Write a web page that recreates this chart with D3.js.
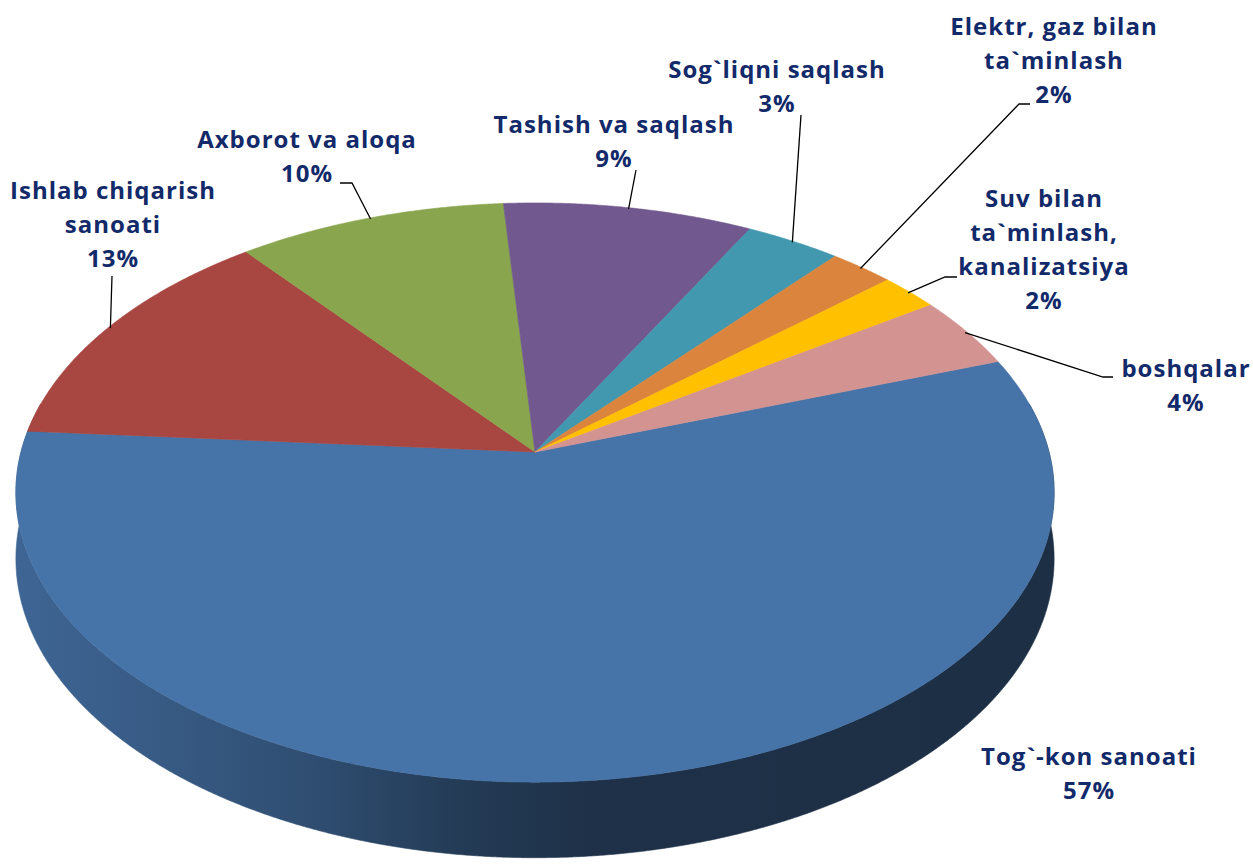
<!DOCTYPE html>
<html>
<head>
<meta charset="utf-8">
<script src="https://cdn.jsdelivr.net/npm/d3@7"></script>
<style>
  body { margin: 0; background: #fff; }
  .pieLabel { font-family: "Open Sans", Lato, sans-serif; font-weight: bold; fill: #12296a; letter-spacing: 1px; }
</style>
</head>
<body>
<div class="chart"></div>
<script>
// data
const categories = ["Tog`-kon sanoati", "Ishlab chiqarish sanoati", "Axborot va aloqa", "Tashish va saqlash",
    "Sog`liqni saqlash", "Elektr, gaz bilan ta`minlash", "Suv bilan ta`minlash, kanalizatsiya", "boshqalar"];
const shares = [56.6, 13.1, 9.6, 8.9, 3.4, 2.3, 2.1, 4.0];
const labelLines = [["Tog`-kon sanoati"], ["Ishlab chiqarish", "sanoati"], ["Axborot va aloqa"], ["Tashish va saqlash"],
    ["Sog`liqni saqlash"], ["Elektr, gaz bilan", "ta`minlash"], ["Suv bilan", "ta`minlash,", "kanalizatsiya"], ["boshqalar"]];
const sliceColors = ["#4673a8", "#a84642", "#89a54e", "#71588f", "#4198af", "#db843d", "#ffc000", "#d39391"];

// layout of the labels (first baseline, centre x) and the elbow of each leader line
const labelLayout = [
    { x: 1089, y: 765, leader: null },
    { x: 113, y: 199, leader: [[112, 276]] },
    { x: 307, y: 148, leader: [[340, 183], [352, 183]] },
    { x: 614, y: 133, leader: [[636, 170]] },
    { x: 777, y: 78, leader: [[801, 115]] },
    { x: 1054, y: 35, leader: [[1030, 104], [1019, 104]] },
    { x: 1044, y: 207, leader: [[957, 277], [945, 277]] },
    { x: 1186, y: 377, leader: [[1113, 377], [1103, 377]] }
];

const width = 1253, height = 864;
const lineGap = 34;

// #region perspective of the pie
const cx = 535;            // centre x on screen
const apexY = 452;         // projected centre of the pie
const k = 0.14;            // perspective strength
const E = 2028;            // distance horizon -> centre
const horizon = apexY - E;
const A = 514;             // horizontal radius
const T = 65;              // thickness
const rad = Math.PI / 180;

function proj(a, r, z) {
    const u = r * Math.sin(a), v = r * Math.cos(a);
    const s = 1 / (1 + k * v);
    return [cx + A * u * s, horizon + E * s + z * T * s];
}
function rimPts(a0, a1, z) {
    const n = Math.max(2, Math.ceil((a1 - a0) / 0.004));
    return d3.range(n + 1).map(i => proj(a0 + (a1 - a0) * i / n, 1, z));
}
// #endregion

const svg = d3.select(".chart").append("svg")
    .attr("width", width).attr("height", height);

const pie = d3.pie().sort(null).value(d => d)
    .startAngle(70.5 * rad).endAngle(70.5 * rad + 2 * Math.PI);
const arcs = pie(shares);
const total = d3.sum(shares);

// gradients for the side wall
const defs = svg.append("defs");
const shadeStops = [[0, 0.88], [0.15, 0.78], [0.3, 0.66], [0.42, 0.52], [0.55, 0.43], [1, 0.41]];
sliceColors.forEach((c, i) => {
    const g = defs.append("linearGradient").attr("id", "wall" + i)
        .attr("gradientUnits", "userSpaceOnUse")
        .attr("x1", cx - A * 1.01).attr("x2", cx + A * 1.01).attr("y1", 0).attr("y2", 0);
    const base = d3.rgb(c);
    shadeStops.forEach(([o, f]) => {
        g.append("stop").attr("offset", o)
            .attr("stop-color", d3.rgb(base.r * f, base.g * f, base.b * f).formatHex());
    });
});

const line = d3.line();

// side wall (front part only, the top face covers the rest)
const wallLo = 80 * rad, wallHi = 280 * rad;
const gWall = svg.append("g").attr("class", "gWall");
arcs.forEach((d, i) => {
    [0, -2 * Math.PI].forEach(off => {
        const a0 = Math.max(d.startAngle + off, wallLo);
        const a1 = Math.min(d.endAngle + off, wallHi);
        if (a1 <= a0) return;
        const pts = rimPts(a0, a1, 0).concat(rimPts(a0, a1, 1).reverse());
        gWall.append("path")
            .attr("d", line(pts) + "Z")
            .attr("fill", "url(#wall" + i + ")")
            .attr("stroke", "url(#wall" + i + ")")
            .attr("stroke-width", 0.6);
    });
});

// top face
const gTop = svg.append("g").attr("class", "gTop");
gTop.selectAll("path")
    .data(arcs)
    .enter()
    .append("path")
    .attr("d", d => line([[cx, apexY]].concat(rimPts(d.startAngle, d.endAngle, 0))) + "Z")
    .attr("fill", (d, i) => sliceColors[i])
    .attr("stroke", (d, i) => sliceColors[i])
    .attr("stroke-width", 0.6);

// leader lines
const gLeader = svg.append("g").attr("class", "gLeader");
arcs.forEach((d, i) => {
    const lay = labelLayout[i];
    if (!lay.leader) return;
    const mid = (d.startAngle + d.endAngle) / 2;
    const end = proj(mid, 0.995, 0);
    gLeader.append("path")
        .attr("d", line(lay.leader.concat([end])))
        .attr("fill", "none")
        .attr("stroke", "#000")
        .attr("stroke-width", 1.3);
});

// labels
const gLabel = svg.append("g").attr("class", "gLabel");
arcs.forEach((d, i) => {
    const lay = labelLayout[i];
    const lines = labelLines[i].concat([Math.round(d.value / total * 100) + "%"]);
    const t = gLabel.append("text")
        .attr("class", "pieLabel")
        .attr("text-anchor", "middle")
        .attr("font-size", 24);
    lines.forEach((s, j) => {
        t.append("tspan").attr("x", lay.x).attr("y", lay.y + j * lineGap).text(s);
    });
});
</script>
</body>
</html>
